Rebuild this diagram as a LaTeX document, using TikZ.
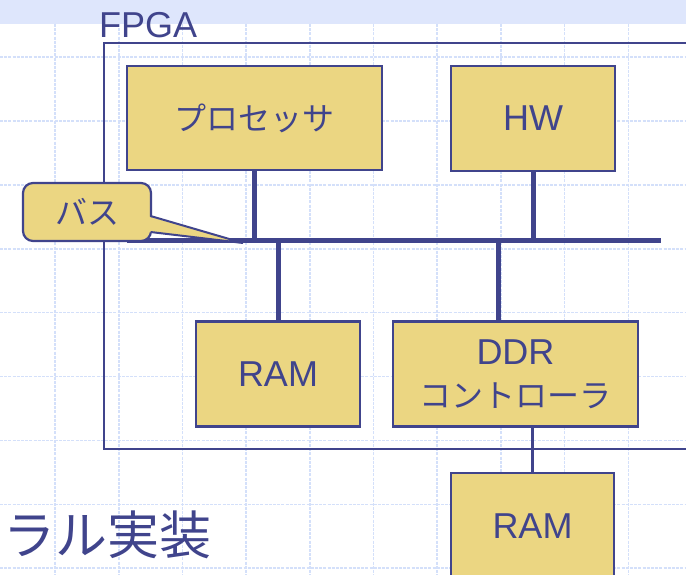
\documentclass[tikz,border=0pt]{standalone}
\usepackage{fontspec}
\setmainfont{Liberation Sans}
\newfontfamily\jp{Noto Sans CJK JP}
\definecolor{ink}{RGB}{64,68,140}
\definecolor{boxfill}{RGB}{235,214,130}
\definecolor{gridc}{RGB}{212,224,250}
\definecolor{bandc}{RGB}{222,230,252}
\tikzset{
  blk/.style={draw=ink, line width=2.2pt, fill=boxfill, inner sep=0pt, text=ink, align=center},
  latin/.style={font=\fontsize{36}{43}\selectfont},
  jtext/.style={font=\jp\fontsize{32}{43}\selectfont},
  busline/.style={draw=ink, line width=5pt},
  thinlink/.style={draw=ink, line width=2.8pt},
  gridline/.style={draw=gridc, line width=1.6pt, dash pattern=on 3pt off 1.2pt},
}
\begin{document}
\begin{tikzpicture}[x=1pt,y=-1pt]
\useasboundingbox (0,0) rectangle (686,575);
\clip (0,0) rectangle (686,575);
\fill[white] (0,0) rectangle (686,575);
% top band
\fill[bandc] (0,0) rectangle (686,24);
% grid
\foreach \k in {0,...,9} {
  \draw[gridline] ({55+63.7*\k},24) -- ({55+63.7*\k},575);
}
\foreach \k in {0,...,8} {
  \draw[gridline] (0,{57+63.9*\k}) -- (686,{57+63.9*\k});
}
% FPGA frame
\draw[ink, line width=2.2pt] (104,43) rectangle (720,449);
\node[anchor=base west, text=ink, latin, inner sep=0pt] (fpgalbl) at (99,38) {FPGA};
% boxes
\node[blk, jtext, minimum width=255pt, minimum height=104pt] (proc) at (254.5,118) {プロセッサ};
\node[blk, latin, minimum width=164pt, minimum height=105pt] (hw) at (533,118.5) {HW};
\node[blk, latin, minimum width=164pt, minimum height=105pt] (ram) at (278,374) {RAM};
\node[blk, latin, minimum width=245pt, minimum height=105pt] (ddr) at (515.5,374) {DDR\\{\jp\fontsize{32}{43}\selectfont コントローラ}};
\node[blk, latin, minimum width=163pt, minimum height=106pt, anchor=north] (ram2) at (532.5,472) {RAM};
% bus
\coordinate (busL) at (127,240.5);
\coordinate (busR) at (661,240.5);
\draw[busline] (busL) -- (busR);
\coordinate (bp) at (254.5,240.5);
\coordinate (bh) at (533,240.5);
\coordinate (br) at (278,240.5);
\coordinate (bd) at (498,240.5);
\draw[busline] (proc.south) -- (bp);
\draw[busline] (hw.south) -- (bh);
\draw[busline] (br) -- (ram.north -| br);
\draw[busline] (bd) -- (ddr.north -| bd);
\draw[thinlink] (ddr.south -| ram2.north) -- (ram2.north);
% callout
\node[blk, jtext, rounded corners=10pt, minimum width=128pt, minimum height=58pt] (busc) at (87,212) {バス};
\coordinate (tip) at (243,243);
\coordinate (pa) at (150.5,216);
\coordinate (pb) at (150.5,232);
\fill[boxfill] (147,216) -- (tip) -- (147,232) -- cycle;
\draw[ink, line width=2pt, line join=miter] (pa) -- (tip) -- (pb);
% bottom title fragment
\node[anchor=west, text=ink, font=\jp\fontsize{52}{60}\selectfont, inner sep=0pt] (title) at (3,535) {ラル実装};
\end{tikzpicture}
\end{document}
